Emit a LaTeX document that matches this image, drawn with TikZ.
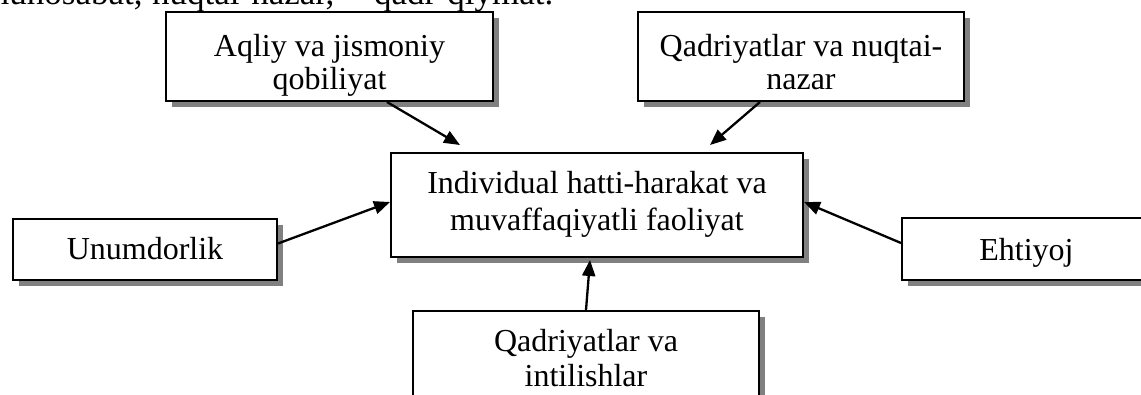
\documentclass[tikz,border=0pt]{standalone}
\usepackage{fontspec}
\setmainfont{Liberation Serif}
\usetikzlibrary{arrows.meta,shadows}
\newcommand\bxt[5]{\parbox[c][#2][t]{#1}{\fontsize{32pt}{#4}\selectfont\centering\rule{0pt}{#3}#5\par}}
\begin{document}
\begin{tikzpicture}[x=1pt,y=-1pt,
  box/.style={draw=black,line width=2pt,fill=white,inner sep=0pt,anchor=north west,
    drop shadow={shadow xshift=6pt,shadow yshift=-6pt,fill=gray,opacity=1}},
  arr/.style={-{Triangle[length=16pt,width=13pt]},line width=2.3pt},
  toptext/.style={anchor=base west,inner sep=0pt,font=\fontsize{35pt}{40pt}\selectfont}]
\useasboundingbox (0,0) rectangle (1141,394);
\clip (0,0) rectangle (1141,394);
% clipped line of text above
\node[toptext] (t1) at (-18,4) {munosabat,};
\node[toptext] (t2) at (152,4) {nuqtai-nazar,};
\node[toptext] (t3) at (374,4) {qadr-qiymat.};
% boxes
\node[box] (A) at (165,11) {\bxt{327pt}{89pt}{44pt}{33pt}{Aqliy va jismoniy\\ qobiliyat}};
\node[box] (B) at (637,11) {\bxt{326pt}{89pt}{44pt}{33pt}{Qadriyatlar va nuqtai-\\ nazar}};
\node[box] (C) at (390,152) {\bxt{412pt}{104pt}{40pt}{37pt}{Individual hatti-harakat va\\ muvaffaqiyatli faoliyat}};
\node[box] (D) at (12,218) {\bxt{264pt}{61pt}{40pt}{36pt}{Unumdorlik}};
\node[box] (E) at (901,217) {\bxt{249pt}{62pt}{42pt}{36pt}{Ehtiyoj}};
\node[box] (F) at (412,310) {\bxt{346pt}{110pt}{40pt}{35pt}{Qadriyatlar va\\ intilishlar}};
% connectors
\draw[arr] ([xshift=222pt]A.south west) -- ([xshift=70pt,yshift=7pt]C.north west);
\draw[arr] ([xshift=123pt]B.south west) -- ([xshift=320pt,yshift=7pt]C.north west);
\draw[arr] ([yshift=6pt]D.east) -- ([yshift=3pt]C.west);
\draw[arr] ([yshift=6pt]E.west) -- ([yshift=3pt]C.east);
\draw[arr] (F.north) -- ([xshift=-7pt,yshift=-2pt]C.south);
\end{tikzpicture}
\end{document}
